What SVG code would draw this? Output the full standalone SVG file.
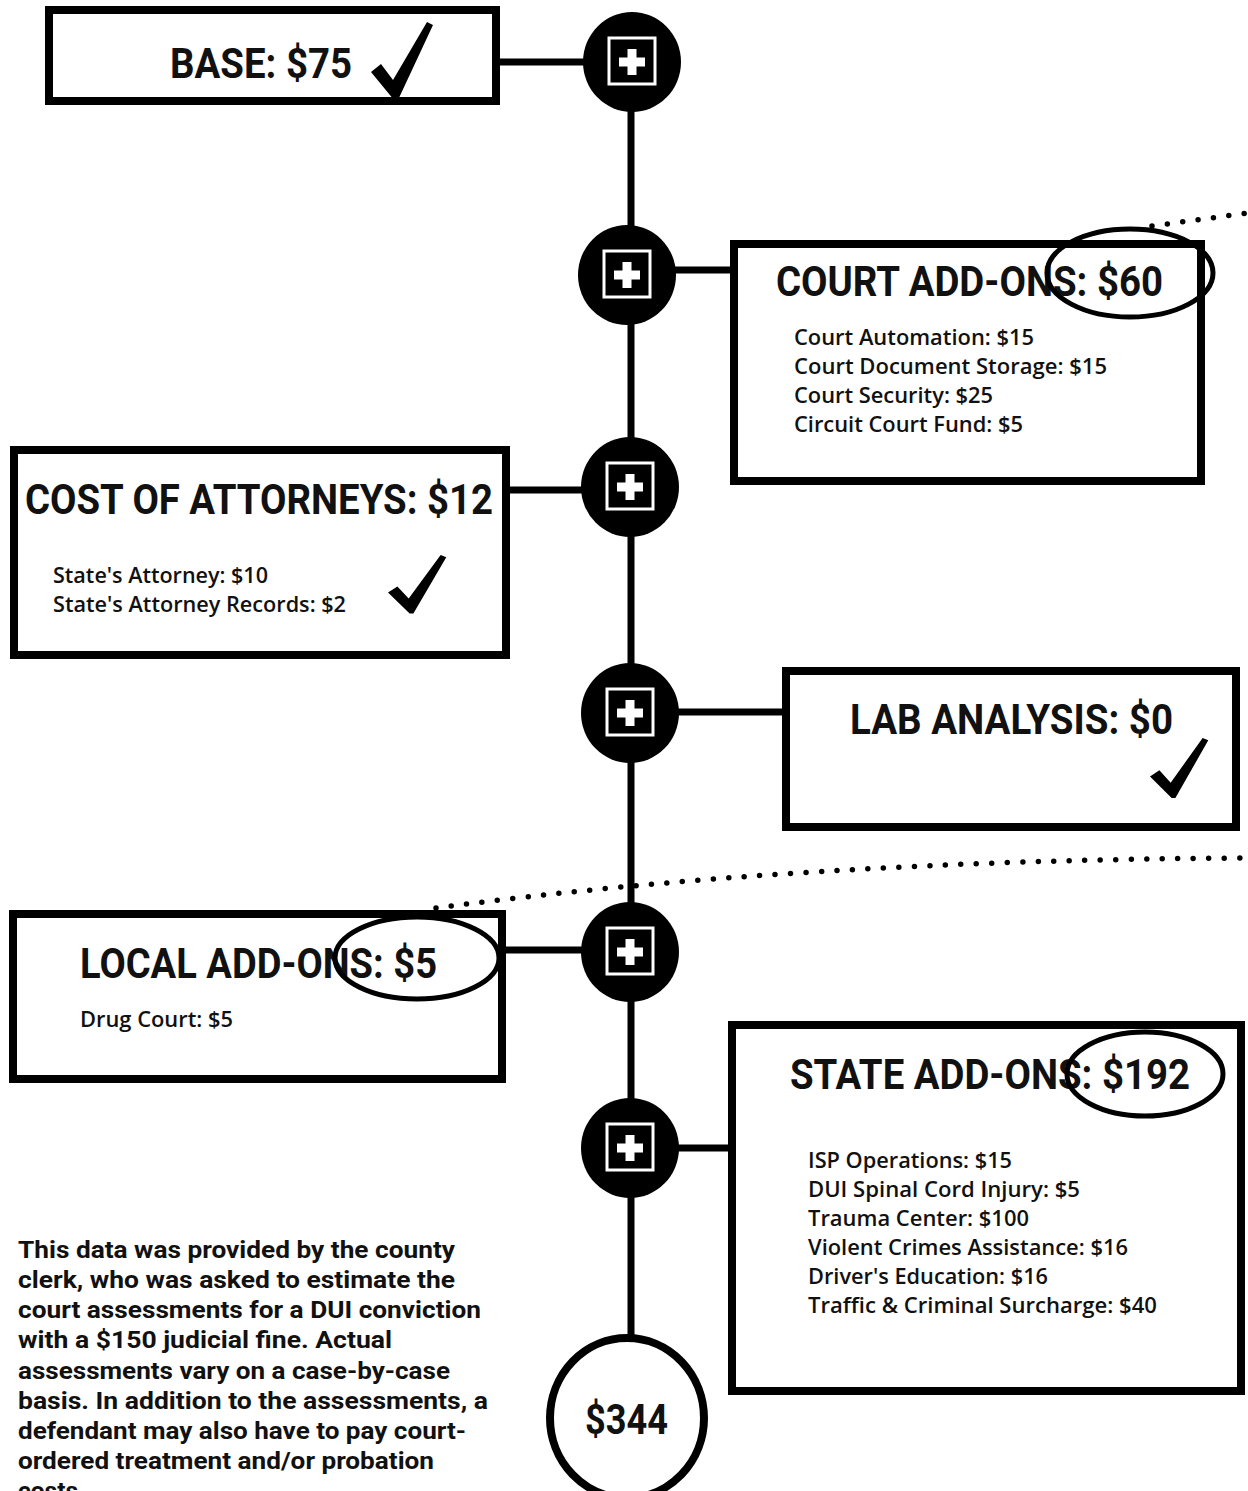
<svg xmlns="http://www.w3.org/2000/svg" width="1248" height="1491" viewBox="0 0 1248 1491">
<style>
.box{fill:#fff;stroke:#000;stroke-width:8}
.title{font-family:Roboto,"Liberation Sans",sans-serif;font-weight:700;font-size:43px;fill:#111}
.item{font-family:"Open Sans","Liberation Sans",sans-serif;font-weight:600;font-size:21px;fill:#111}
.para{font-family:Roboto,"Liberation Sans",sans-serif;font-weight:700;font-size:23px;fill:#111}
.conn{stroke:#000;stroke-width:7;fill:none}
.dots{stroke:#000;stroke-width:5.5;stroke-linecap:round;stroke-dasharray:0 15.5;fill:none}
.ring{fill:none;stroke:#000;stroke-width:5}
</style>
<defs>
<path id="check" d="M0,50 L10,42 L22,58 L56,0 L62,3 L27,78 L23,78 Z" fill="#000"/>
<g id="plus">
<ellipse rx="49" ry="50" fill="#000"/>
<rect x="-23" y="-24" width="46" height="46" fill="#000" stroke="#fff" stroke-width="3"/>
<path d="M-4.5,-13 h9 v8.5 h8.5 v9 h-8.5 v8.5 h-9 v-8.5 h-8.5 v-9 h8.5 z" fill="#fff"/>
</g>
</defs>
<rect width="1248" height="1491" fill="#fff"/>

<g id="connectors">
<line class="conn" x1="631" y1="62" x2="631" y2="1345"/>
<line class="conn" x1="498" y1="62" x2="590" y2="62"/>
<line class="conn" x1="670" y1="270" x2="734" y2="270"/>
<line class="conn" x1="506" y1="490" x2="590" y2="490"/>
<line class="conn" x1="670" y1="712" x2="786" y2="712"/>
<line class="conn" x1="502" y1="950" x2="590" y2="950"/>
<line class="conn" x1="670" y1="1148" x2="732" y2="1148"/>
<path class="dots" d="M1152,226 L1248,213"/>
<path class="dots" d="M436,908 Q800,860 1248,858"/>
<path class="dots" d="M1168,1120 Q1200,1124 1240,1130"/>
</g>

<g id="plus1"><use href="#plus" x="632" y="62"/></g>
<g id="plus2"><use href="#plus" x="627" y="275"/></g>
<g id="plus3"><use href="#plus" x="630" y="487"/></g>
<g id="plus4"><use href="#plus" x="630" y="713"/></g>
<g id="plus5"><use href="#plus" x="630" y="952"/></g>
<g id="plus6"><use href="#plus" x="630" y="1148"/></g>

<g id="base">
<rect class="box" x="49" y="10" width="447" height="91"/>
<text class="title" x="170" y="78" textLength="182" lengthAdjust="spacingAndGlyphs">BASE: $75</text>
<use href="#check" transform="translate(371,22)"/>
</g>

<g id="court">
<rect class="box" x="734" y="244" width="467" height="237"/>
<text class="title" x="776" y="296" textLength="387" lengthAdjust="spacingAndGlyphs">COURT ADD-ONS: $60</text>
<text class="item" x="794" y="345" textLength="240" lengthAdjust="spacingAndGlyphs">Court Automation: $15</text>
<text class="item" x="794" y="374" textLength="313" lengthAdjust="spacingAndGlyphs">Court Document Storage: $15</text>
<text class="item" x="794" y="403" textLength="199" lengthAdjust="spacingAndGlyphs">Court Security: $25</text>
<text class="item" x="794" y="432" textLength="229" lengthAdjust="spacingAndGlyphs">Circuit Court Fund: $5</text>
<ellipse class="ring" cx="1130" cy="273" rx="83" ry="44"/>
</g>

<g id="attorneys">
<rect class="box" x="14" y="450" width="492" height="205"/>
<text class="title" x="25" y="514" textLength="468" lengthAdjust="spacingAndGlyphs">COST OF ATTORNEYS: $12</text>
<text class="item" x="53" y="583" textLength="215" lengthAdjust="spacingAndGlyphs">State's Attorney: $10</text>
<text class="item" x="53" y="612" textLength="293" lengthAdjust="spacingAndGlyphs">State's Attorney Records: $2</text>
<use href="#check" transform="translate(388,555) scale(0.94,0.75)"/>
</g>

<g id="lab">
<rect class="box" x="786" y="671" width="450" height="156"/>
<text class="title" x="850" y="734" textLength="323" lengthAdjust="spacingAndGlyphs">LAB ANALYSIS: $0</text>
<use href="#check" transform="translate(1150,738) scale(0.94,0.77)"/>
</g>

<g id="local">
<rect class="box" x="13" y="914" width="489" height="165"/>
<text class="title" x="80" y="978" textLength="357" lengthAdjust="spacingAndGlyphs">LOCAL ADD-ONS: $5</text>
<text class="item" x="80" y="1027" textLength="153" lengthAdjust="spacingAndGlyphs">Drug Court: $5</text>
<ellipse class="ring" cx="417" cy="958" rx="82" ry="41"/>
</g>

<g id="state">
<rect class="box" x="732" y="1025" width="509" height="366"/>
<text class="title" x="790" y="1089" textLength="400" lengthAdjust="spacingAndGlyphs">STATE ADD-ONS: $192</text>
<text class="item" x="808" y="1168" textLength="204" lengthAdjust="spacingAndGlyphs">ISP Operations: $15</text>
<text class="item" x="808" y="1197" textLength="272" lengthAdjust="spacingAndGlyphs">DUI Spinal Cord Injury: $5</text>
<text class="item" x="808" y="1226" textLength="221" lengthAdjust="spacingAndGlyphs">Trauma Center: $100</text>
<text class="item" x="808" y="1255" textLength="320" lengthAdjust="spacingAndGlyphs">Violent Crimes Assistance: $16</text>
<text class="item" x="808" y="1284" textLength="240" lengthAdjust="spacingAndGlyphs">Driver's Education: $16</text>
<text class="item" x="808" y="1313" textLength="349" lengthAdjust="spacingAndGlyphs">Traffic &amp; Criminal Surcharge: $40</text>
<ellipse class="ring" cx="1145" cy="1074" rx="78" ry="42"/>
</g>

<g id="total">
<ellipse cx="627" cy="1418" rx="77" ry="80" fill="#fff" stroke="#000" stroke-width="8"/>
<text class="title" x="585" y="1434" textLength="83" lengthAdjust="spacingAndGlyphs">$344</text>
</g>

<g id="note">
<text class="para" x="18" y="1258" textLength="437" lengthAdjust="spacingAndGlyphs">This data was provided by the county</text>
<text class="para" x="18" y="1288" textLength="437" lengthAdjust="spacingAndGlyphs">clerk, who was asked to estimate the</text>
<text class="para" x="18" y="1318" textLength="463" lengthAdjust="spacingAndGlyphs">court assessments for a DUI conviction</text>
<text class="para" x="18" y="1348" textLength="374" lengthAdjust="spacingAndGlyphs">with a $150 judicial fine. Actual</text>
<text class="para" x="18" y="1379" textLength="432" lengthAdjust="spacingAndGlyphs">assessments vary on a case-by-case</text>
<text class="para" x="18" y="1409" textLength="470" lengthAdjust="spacingAndGlyphs">basis. In addition to the assessments, a</text>
<text class="para" x="18" y="1439" textLength="448" lengthAdjust="spacingAndGlyphs">defendant may also have to pay court-</text>
<text class="para" x="18" y="1469" textLength="416" lengthAdjust="spacingAndGlyphs">ordered treatment and/or probation</text>
<text class="para" x="18" y="1499" textLength="60" lengthAdjust="spacingAndGlyphs">costs</text>
</g>
</svg>
